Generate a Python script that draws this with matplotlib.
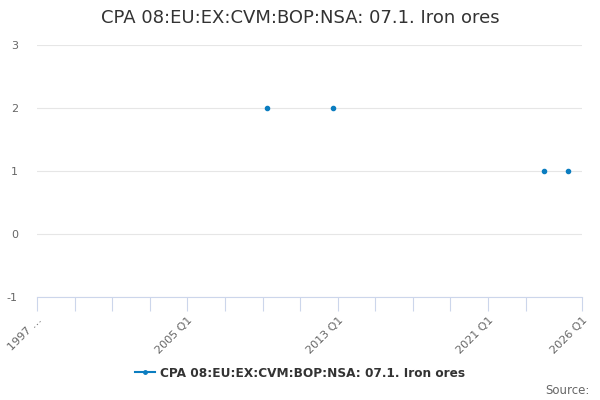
import matplotlib
matplotlib.use("Agg")
import matplotlib.pyplot as plt
import numpy as np
from matplotlib.lines import Line2D

title = "CPA 08:EU:EX:CVM:BOP:NSA: 07.1. Iron ores"
series_name = "CPA 08:EU:EX:CVM:BOP:NSA: 07.1. Iron ores"
point_quarters = ["2009 Q2", "2012 Q4", "2024 Q1", "2025 Q2"]
point_values = [2, 2, 1, 1]
start_year, end_year = 1997, 2026
tick_labels = {"1997 Q1": "1997 …", "2005 Q1": "2005 Q1", "2013 Q1": "2013 Q1",
               "2021 Q1": "2021 Q1", "2026 Q1": "2026 Q1"}
y_ticks = [-1, 0, 1, 2, 3]

quarters = [f"{y} Q{q}" for y in range(start_year, end_year + 1) for q in range(1, 5)]
quarters = quarters[:quarters.index(f"{end_year} Q1") + 1]
pos = {q: i for i, q in enumerate(quarters)}

fig = plt.figure(figsize=(6, 4), dpi=100)
ax = fig.add_axes([0.062, 0.2575, 0.908, 0.63])

xs = [pos[q] for q in point_quarters]
color = "#0b7dc0"
ax.plot(xs, point_values, linestyle="none", marker="o", markersize=3,
        color=color)

ax.set_xlim(0, len(quarters) - 1)
ax.set_ylim(-1, 3)
ax.set_yticks(y_ticks)
ax.set_yticklabels([str(v) for v in y_ticks], color="#666666", fontsize=8)
ax.grid(axis="y", color="#e6e6e6", linewidth=0.8)
ax.set_axisbelow(True)

major = [pos[q] for q in quarters if q.endswith("Q1") and (int(q[:4]) - start_year) % 2 == 0
         and int(q[:4]) <= end_year - 3]
major.append(pos[f"{end_year} Q1"])
ax.set_xticks(major)
ax.set_xticklabels([tick_labels.get(quarters[m], "") for m in major],
                   rotation=45, ha="right", rotation_mode="anchor",
                   color="#666666", fontsize=8)
ax.tick_params(axis="x", length=10, color="#ccd6eb", width=0.8, pad=3)
ax.tick_params(axis="y", length=0, pad=14)

for s in ["top", "right", "left"]:
    ax.spines[s].set_visible(False)
ax.spines["bottom"].set_color("#ccd6eb")
ax.spines["bottom"].set_linewidth(0.8)

fig.text(0.5, 0.955, title, ha="center", va="center", fontsize=13, color="#333333")

h = Line2D([0], [0], color=color, marker="o", markersize=2.5, linewidth=1.5)
fig.legend([h], [series_name], loc="center", bbox_to_anchor=(0.5, 0.067),
           frameon=False, prop={"weight": "bold", "size": 8.7}, labelcolor="#333333",
           handlelength=1.6, handletextpad=0.4)
fig.text(0.982, 0.025, "Source:", ha="right", va="center", fontsize=8.5, color="#666666")

fig.savefig("out.png", dpi=100)
